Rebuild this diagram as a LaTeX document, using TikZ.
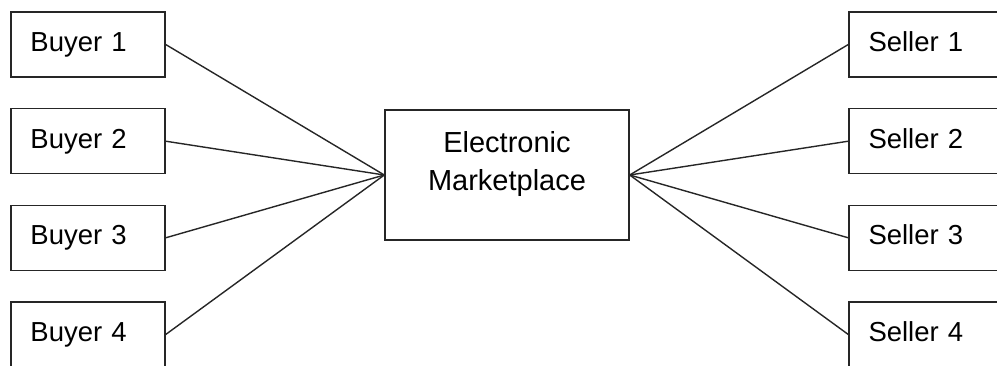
\documentclass[tikz,border=0pt]{standalone}
\usepackage{fontspec}
\setmainfont{Liberation Sans}
\begin{document}
\begin{tikzpicture}[x=1pt,y=1pt,
  party/.style={draw=black!85, line width=1.4pt, rectangle, minimum height=65pt,
    text width=115pt, inner xsep=19.5pt, inner ysep=0pt, align=left,
    text height=20pt, text depth=6pt,
    font=\fontsize{27.5}{32}\selectfont, anchor=center},
  hub/.style={draw=black!85, line width=1.4pt, rectangle, minimum width=244pt,
    minimum height=130pt, inner sep=0pt},
  link/.style={draw=black!85, line width=1.4pt}]
\useasboundingbox (0,0) rectangle (997,365);
% buyers on the left
\node[party] (b1) at (88,320.5) {Buyer 1};
\node[party] (b2) at (88,223.8) {Buyer 2};
\node[party] (b3) at (88,127.2) {Buyer 3};
\node[party] (b4) at (88,30.5) {Buyer 4};
% sellers on the right
\node[party] (s1) at (926,320.5) {Seller 1};
\node[party] (s2) at (926,223.8) {Seller 2};
\node[party] (s3) at (926,127.2) {Seller 3};
\node[party] (s4) at (926,30.5) {Seller 4};
% the marketplace in the middle
\node[hub] (mkt) at (507,190) {};
\node[align=center, inner sep=0pt, font=\fontsize{29}{38}\selectfont]
  (mkttext) at ([yshift=11pt]mkt.center) {Electronic\\Marketplace};
% connectors
\foreach \p in {b1,b2,b3,b4} \draw[link] (\p.east) -- (mkt.west);
\foreach \p in {s1,s2,s3,s4} \draw[link] (\p.west) -- (mkt.east);
\end{tikzpicture}
\end{document}
